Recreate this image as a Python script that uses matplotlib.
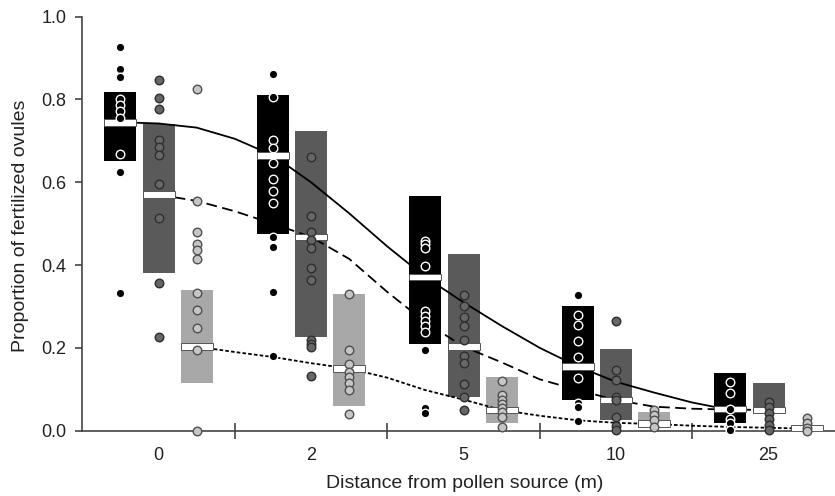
import numpy as np
import matplotlib
matplotlib.use('Agg')
import matplotlib.pyplot as plt
from matplotlib.patches import Rectangle

plt.rcParams['font.family'] = ['Liberation Sans', 'DejaVu Sans']

distances = ['0', '2', '5', '10', '25']

# individual plants: proportion of fertilized ovules, per distance
black_pts = [
    [0.927, 0.874, 0.854, 0.801, 0.786, 0.771, 0.755, 0.668, 0.625, 0.332],
    [0.862, 0.805, 0.703, 0.683, 0.647, 0.608, 0.578, 0.55, 0.469, 0.443, 0.334, 0.181],
    [0.459, 0.451, 0.441, 0.398, 0.288, 0.276, 0.264, 0.252, 0.239, 0.195, 0.054, 0.042],
    [0.327, 0.28, 0.256, 0.217, 0.179, 0.127, 0.068, 0.058, 0.024],
    [0.118, 0.09, 0.052, 0.028, 0.018, 0.002],
]
dark_pts = [
    [0.848, 0.804, 0.776, 0.703, 0.685, 0.667, 0.596, 0.514, 0.356, 0.226],
    [0.661, 0.519, 0.481, 0.461, 0.441, 0.393, 0.363, 0.219, 0.21, 0.202, 0.132],
    [0.328, 0.302, 0.274, 0.252, 0.218, 0.181, 0.163, 0.113, 0.082, 0.05],
    [0.264, 0.147, 0.123, 0.082, 0.073, 0.034, 0.011, 0.002],
    [0.07, 0.058, 0.042, 0.028, 0.014, 0.002],
]
light_pts = [
    [0.826, 0.555, 0.479, 0.451, 0.437, 0.415, 0.332, 0.292, 0.248, 0.195, 0.0],
    [0.33, 0.195, 0.161, 0.141, 0.129, 0.116, 0.098, 0.04],
    [0.121, 0.086, 0.074, 0.065, 0.054, 0.044, 0.034, 0.01],
    [0.05, 0.038, 0.026, 0.01],
    [0.03, 0.018, 0.006, 0.0],
]

# quartiles and medians
black_q1 = [0.651, 0.476, 0.21, 0.073, 0.018]
black_q3 = [0.819, 0.81, 0.568, 0.302, 0.139]
black_med = [0.745, 0.665, 0.371, 0.155, 0.052]
dark_q1 = [0.381, 0.227, 0.081, 0.026, 0.045]
dark_q3 = [0.74, 0.723, 0.427, 0.197, 0.115]
dark_med = [0.57, 0.468, 0.203, 0.074, 0.05]
light_q1 = [0.115, 0.06, 0.019, 0.01, 0.0]
light_q3 = [0.339, 0.331, 0.129, 0.046, 0.012]
light_med = [0.203, 0.15, 0.05, 0.017, 0.005]

# fitted curves (x in category units)
solid_x = [-0.25, 0.0, 0.25, 0.5, 0.75, 1.0, 1.25, 1.5, 1.75, 2.0, 2.25, 2.5, 2.75, 3.0, 3.25, 3.5, 3.75]
solid_y = [0.745, 0.742, 0.732, 0.705, 0.665, 0.60, 0.525, 0.445, 0.371, 0.31, 0.253, 0.20, 0.155, 0.118, 0.092, 0.068, 0.050]
dash_x = [0.0, 0.25, 0.5, 0.75, 1.0, 1.25, 1.5, 1.75, 2.0, 2.25, 2.5, 2.75, 3.0, 3.25, 3.5, 3.75, 4.0]
dash_y = [0.57, 0.555, 0.53, 0.50, 0.468, 0.415, 0.335, 0.262, 0.203, 0.165, 0.124, 0.098, 0.074, 0.058, 0.053, 0.051, 0.05]
dot_x = [0.25, 0.5, 0.75, 1.0, 1.25, 1.5, 1.75, 2.0, 2.25, 2.5, 2.75, 3.0, 3.25, 3.5, 3.75, 4.0, 4.25]
dot_y = [0.203, 0.19, 0.178, 0.163, 0.15, 0.128, 0.098, 0.075, 0.05, 0.036, 0.025, 0.019, 0.016, 0.012, 0.009, 0.007, 0.005]

series = [
    dict(pts=black_pts, q1=black_q1, q3=black_q3, med=black_med, off=-0.25,
         box='#000000', face='#000000', edge='white'),
    dict(pts=dark_pts, q1=dark_q1, q3=dark_q3, med=dark_med, off=0.0,
         box='#5a5a5a', face='#666666', edge='#2e2e2e'),
    dict(pts=light_pts, q1=light_q1, q3=light_q3, med=light_med, off=0.25,
         box='#a8a8a8', face='#c6c6c6', edge='#505050'),
]
width = 0.21
txt = '#222222'

fig = plt.figure(figsize=(8.35, 4.96), dpi=100)
ax = fig.add_axes([0.0982, 0.1317, 0.9018, 0.8347])

for s in series:
    for i in range(len(distances)):
        x = i + s['off']
        ax.add_patch(Rectangle((x - width / 2, s['q1'][i]), width, s['q3'][i] - s['q1'][i],
                               facecolor=s['box'], edgecolor='none', zorder=1))

ax.plot(solid_x, solid_y, color='black', lw=1.3, zorder=2)
ax.plot(dash_x, dash_y, color='black', lw=1.3, dashes=(6, 3), zorder=2)
ax.plot(dot_x, dot_y, color='black', lw=1.3, dashes=(2, 1.2), zorder=2)

for s in series:
    for i in range(len(distances)):
        x = i + s['off']
        ax.add_patch(Rectangle((x - width / 2, s['med'][i] - 0.008), width, 0.016,
                               facecolor='white', edgecolor='#555555', lw=0.7, zorder=3))
        ys = s['pts'][i]
        ax.scatter(np.full(len(ys), x), ys, s=38, color=s['face'], edgecolors=s['edge'],
                   linewidths=1.0, zorder=4, clip_on=False)

ax.set_xlim(-0.502, 4.436)
ax.set_ylim(0, 1.0)
for side in ['top', 'right']:
    ax.spines[side].set_visible(False)
for side in ['left', 'bottom']:
    ax.spines[side].set_color('#444444')
    ax.spines[side].set_linewidth(1.2)

ax.set_yticks([0.0, 0.2, 0.4, 0.6, 0.8, 1.0])
ax.set_yticklabels(['0.0', '0.2', '0.4', '0.6', '0.8', '1.0'])
ax.tick_params(axis='y', direction='out', length=5, width=1.2, color='#444444',
               labelsize=13, labelcolor=txt, pad=6)

ax.set_xticks(range(len(distances)))
ax.set_xticklabels(distances)
ax.tick_params(axis='x', which='major', length=0, labelsize=13, labelcolor=txt, pad=12)
ax.set_xticks([0.5, 1.5, 2.5, 3.5], minor=True)
ax.tick_params(axis='x', which='minor', direction='inout', length=12, width=1.2, color='#444444')

fig.text(0.557, 0.026, 'Distance from pollen source (m)', fontsize=14, color=txt,
         ha='center', va='center')
fig.text(0.025, 0.545, 'Proportion of fertilized ovules', fontsize=14, color=txt,
         ha='center', va='center', rotation=90)

fig.savefig('out.png', dpi=100)
